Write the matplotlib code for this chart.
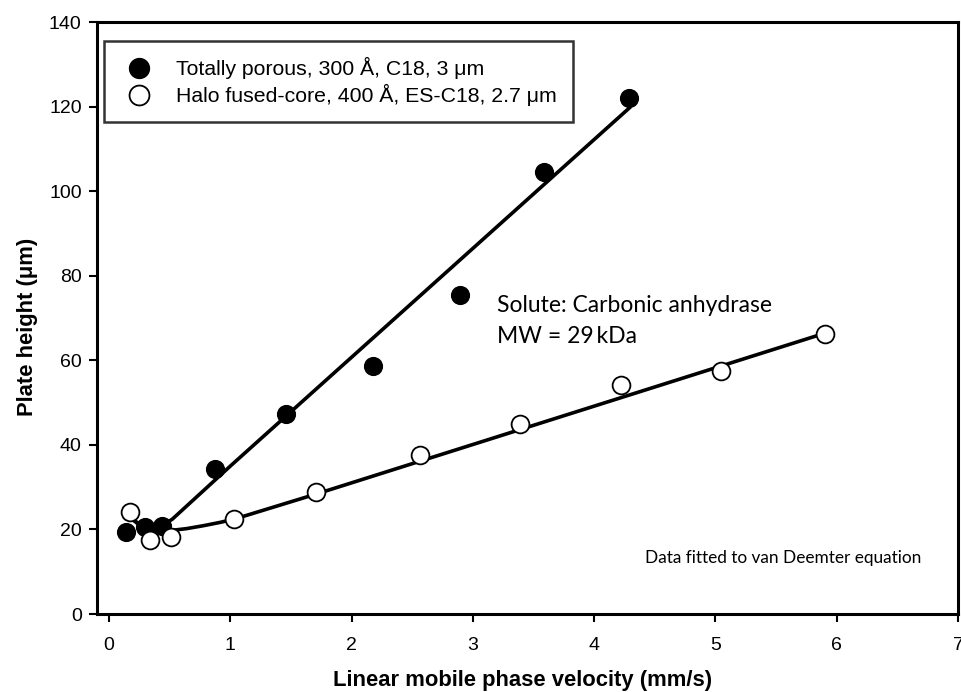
import matplotlib
matplotlib.use("Agg")
import matplotlib.pyplot as plt

plt.rcParams['font.family'] = ['Liberation Sans', 'DejaVu Sans']

u_porous = [0.14, 0.30, 0.44, 0.87, 1.46, 2.18, 2.89, 3.59, 4.29]
h_porous = [19.4, 20.6, 20.8, 34.3, 47.3, 58.6, 75.4, 104.5, 122.0]
u_halo = [0.17, 0.34, 0.51, 1.03, 1.71, 2.56, 3.39, 4.22, 5.05, 5.90]
h_halo = [24.1, 17.5, 18.2, 22.5, 28.8, 37.6, 44.9, 54.1, 57.5, 66.2]

# van Deemter fit lines
u_fit_porous = [0.17, 0.21, 0.25, 0.30, 0.35, 0.40, 0.45, 0.52, 0.60, 1.00, 4.29]
h_fit_porous = [22.9, 22.0, 21.4, 21.0, 20.8, 20.9, 21.2, 22.4, 24.5, 35.0, 119.7]
u_fit_halo = [0.17, 0.21, 0.25, 0.30, 0.36, 0.44, 0.52, 0.64, 0.78, 0.92, 1.05, 1.71, 5.90]
h_fit_halo = [23.4, 22.0, 21.0, 20.3, 19.9, 19.7, 19.8, 20.2, 20.9, 21.7, 22.6, 28.4, 66.4]

label_porous = 'Totally porous, 300 Å, C18, 3 μm'
label_halo = 'Halo fused-core, 400 Å, ES-C18, 2.7 μm'

fig = plt.figure(figsize=(9.62, 6.92), dpi=100)
ax = fig.add_axes([0.1008, 0.1127, 0.895, 0.8553])

ax.plot(u_fit_porous, h_fit_porous, color='black', lw=2.6, zorder=2,
        solid_joinstyle='round')
ax.plot(u_fit_halo, h_fit_halo, color='black', lw=2.6, zorder=2,
        solid_joinstyle='round')

ax.plot(u_porous, h_porous, 'o', ms=12.8, mfc='black', mec='black',
        label=label_porous, zorder=3)
ax.plot(u_halo, h_halo, 'o', ms=12.8, mfc='white', mec='black', mew=1.3,
        label=label_halo, zorder=3)

ax.set_xlim(-0.1, 7)
ax.set_ylim(0, 140)
ax.set_xticks(range(0, 8))
ax.set_yticks(range(0, 141, 20))
ax.tick_params(direction='out', length=6, width=1.5, labelsize=14)
ax.tick_params(axis='x', pad=10.5)
ax.tick_params(axis='y', pad=5)
for s in ax.spines.values():
    s.set_linewidth(2.2)

ax.set_xlabel('Linear mobile phase velocity (mm/s)', fontsize=15.8,
              fontweight='bold', labelpad=11.5)
ax.set_ylabel('Plate height (μm)', fontsize=15.8, fontweight='bold')
ax.yaxis.set_label_coords(-0.0685, 0.4856)
ax.xaxis.label.set_x(0.494)

leg = ax.legend(loc='upper left', bbox_to_anchor=(0.0081, 0.968), fontsize=15.3,
                frameon=True, fancybox=False, borderpad=0.75, borderaxespad=0,
                handlelength=1.8, handletextpad=0.85, labelspacing=0.25,
                markerscale=1.12)
leg.get_frame().set_edgecolor('black')
leg.get_frame().set_linewidth(1.8)

ann_font = ['Lato', 'DejaVu Sans']
ax.text(3.2, 71.4, 'Solute: Carbonic anhydrase', fontsize=16.5,
        family=ann_font, va='baseline')
ax.text(3.2, 64.1, 'MW = 29\u2009kDa', fontsize=16.5,
        family=ann_font, va='baseline')
ax.text(4.42, 12.1, 'Data fitted to van Deemter equation', fontsize=12.4,
        family=ann_font, va='baseline')

fig.savefig('out.png', dpi=100)
